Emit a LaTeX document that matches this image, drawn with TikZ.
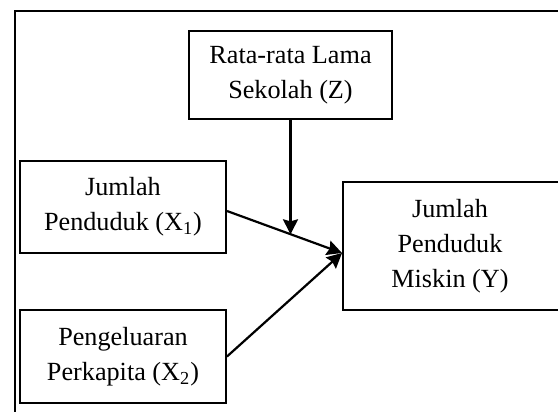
\documentclass[tikz,border=0pt]{standalone}
\usepackage{fontspec}
\setmainfont{Liberation Serif}
\usetikzlibrary{arrows.meta,calc}
\tikzset{
  varbox/.style={draw, line width=1pt, fill=white, align=center, inner sep=0pt},
  arr/.style={line width=1.1pt, -{Stealth[length=7.5pt,width=7.5pt,inset=1pt]}}
}
\begin{document}
\begin{tikzpicture}[x=0.5pt,y=-0.5pt,font=\fontsize{13.1}{17.5}\selectfont]
    \useasboundingbox (0,0) rectangle (558,412);
    \draw[line width=1pt] (14.7,412) -- (14.7,11.3) -- (558,11.3);
    \node[varbox, minimum width=101.5pt, minimum height=44pt] (Z) at (290.5,75) {Rata-rata Lama\\Sekolah (Z)};
    \node[varbox, minimum width=103pt, minimum height=46pt] (X1) at (123,207) {Jumlah\\Penduduk (X\textsubscript{1})};
    \node[varbox, minimum width=103pt, minimum height=46.5pt] (X2) at (123,356.5) {Pengeluaran\\Perkapita (X\textsubscript{2})};
    \node[varbox, minimum width=130pt, minimum height=64pt] (Y) at (473,246) {};
    \node[align=center] (Ytext) at ($(Y.west)+(108,0)$) {Jumlah\\Penduduk\\Miskin (Y)};
    \coordinate (X1out) at ($(X1.east)+(0,4)$);
    \coordinate (Yin) at ($(Y.west)+(0,7)$);
    \path (X1out) -- (Yin) coordinate[pos=0.556] (hit);
    \draw[arr] (X1out) -- (Yin);
    \draw[arr] (X2.east) -- (Yin);
    \draw[arr] (Z.south) -- (Z.south |- hit);
\end{tikzpicture}
\end{document}
